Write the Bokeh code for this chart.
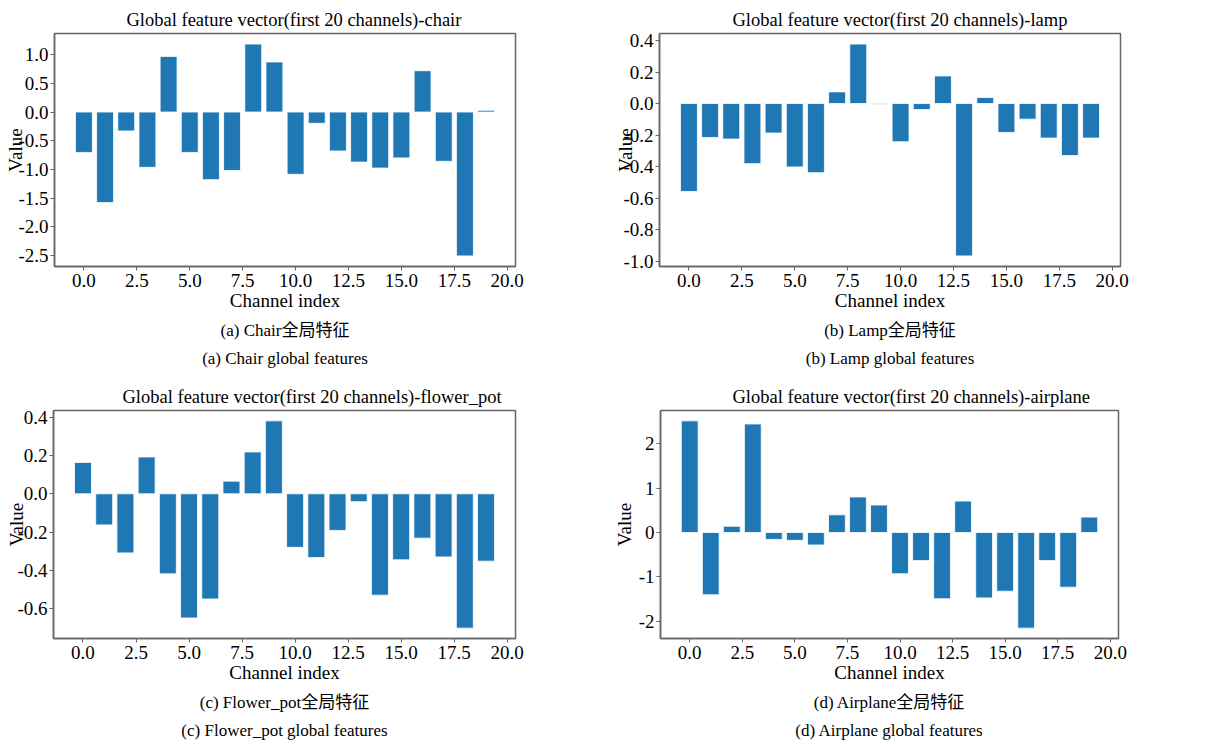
from bokeh.plotting import figure
from bokeh.layouts import column, row
from bokeh.models import Title, FixedTicker, NumeralTickFormatter, Range1d
from bokeh.embed import file_html
from bokeh.resources import INLINE

channels = list(range(20))

chair = [-0.705, -1.58, -0.33, -0.965, 0.97, -0.705, -1.18, -1.02, 1.185, 0.873,
         -1.087, -0.197, -0.68, -0.873, -0.977, -0.80, 0.72, -0.86, -2.51, 0.03]
lamp = [-0.558, -0.215, -0.225, -0.381, -0.187, -0.402, -0.438, 0.074, 0.377, -0.006,
        -0.242, -0.038, 0.175, -0.966, 0.038, -0.183, -0.099, -0.219, -0.33, -0.219]
flower_pot = [0.163, -0.162, -0.308, 0.192, -0.417, -0.647, -0.548, 0.066, 0.218, 0.38,
              -0.279, -0.332, -0.191, -0.041, -0.528, -0.344, -0.231, -0.329, -0.70, -0.351]
airplane = [2.51, -1.40, 0.14, 2.44, -0.155, -0.176, -0.28, 0.397, 0.80, 0.618,
            -0.926, -0.632, -1.49, 0.706, -1.47, -1.32, -2.15, -0.632, -1.23, 0.346]

x_ticks = [0, 2.5, 5, 7.5, 10, 12.5, 15, 17.5, 20]
chair_yticks = [-2.5, -2.0, -1.5, -1.0, -0.5, 0.0, 0.5, 1.0]
lamp_yticks = [-1.0, -0.8, -0.6, -0.4, -0.2, 0.0, 0.2, 0.4]
flower_yticks = [-0.6, -0.4, -0.2, 0.0, 0.2, 0.4]
airplane_yticks = [-2, -1, 0, 1, 2]

titles = ["Global feature vector(first 20 channels)-chair",
          "Global  feature vector(first 20 channels)-lamp",
          "Global feature vector(first 20 channels)-flower_pot",
          "Global  feature vector(first 20 channels)-airplane"]
captions_cn = ["(a) Chair全局特征", "(b) Lamp全局特征", "(c) Flower_pot全局特征", "(d) Airplane全局特征"]
captions_en = ["(a) Chair global features", "(b) Lamp global features",
               "(c) Flower_pot global features", "(d) Airplane global features"]

SERIF = "Liberation Serif, Noto Sans CJK SC"
BAR = "#1f77b4"
SPINE = "#666666"


def panel(vals, title, yticks, yfmt, cn, en, w, h, bl, br, bt, bb, toff, lab_so):
    lo, hi = min(vals), max(vals)
    span = hi - lo
    p = figure(width=w, height=h, output_backend="svg", toolbar_location=None,
               x_range=Range1d(-0.4 - 0.99, 19.4 + 0.99),
               y_range=Range1d(lo - 0.05 * span, hi + 0.05 * span),
               min_border_left=bl, min_border_right=br, min_border_top=bt, min_border_bottom=bb)
    p.vbar(x=channels, top=vals, bottom=0, width=0.8, fill_color=BAR,
           line_color="white", line_alpha=0.8, line_width=1)
    p.title.text = title
    p.title.align = "left"
    p.title.offset = toff
    p.title.text_font = SERIF
    p.title.text_font_size = "18.5px"
    p.title.text_font_style = "normal"
    p.title.text_color = "black"
    p.title.standoff = 7
    p.xgrid.visible = False
    p.ygrid.visible = False
    p.outline_line_color = SPINE
    p.outline_line_width = 1.5
    p.xaxis.ticker = FixedTicker(ticks=x_ticks)
    p.xaxis.formatter = NumeralTickFormatter(format="0.0")
    p.yaxis.ticker = FixedTicker(ticks=yticks)
    p.yaxis.formatter = NumeralTickFormatter(format=yfmt)
    p.xaxis.axis_label = "Channel index"
    p.yaxis.axis_label = "Value"
    for ax in (p.xaxis[0], p.yaxis[0]):
        ax.axis_line_color = SPINE
        ax.axis_line_width = 1.5
        ax.major_tick_line_color = SPINE
        ax.major_tick_out = 4
        ax.major_tick_in = 0
        ax.minor_tick_out = 0
        ax.minor_tick_in = 0
        ax.major_label_text_font = SERIF
        ax.major_label_text_font_size = "19px"
        ax.major_label_text_color = "black"
        ax.axis_label_text_font = SERIF
        ax.axis_label_text_font_size = "19px"
        ax.axis_label_text_font_style = "normal"
        ax.axis_label_text_color = "black"
    p.xaxis.major_label_standoff = 3
    p.yaxis.major_label_standoff = 2
    p.xaxis.axis_label_standoff = 0
    p.yaxis.axis_label_standoff = lab_so
    for txt, so in ((cn, 10), (en, 5)):
        t = Title(text=txt, align="center", text_font=SERIF, text_font_size="17px",
                  text_font_style="normal", text_color="black", standoff=so)
        p.add_layout(t, "below")
    return p


p1 = panel(chair, titles[0], chair_yticks, "0.0", captions_cn[0], captions_en[0],
           610, 372, 54, 95, 33, 106, 72, -11)
p2 = panel(lamp, titles[1], lamp_yticks, "0.0", captions_cn[1], captions_en[1],
           608, 372, 49, 98, 33, 106, 73, -16)
p3 = panel(flower_pot, titles[2], flower_yticks, "0.0", captions_cn[2], captions_en[2],
           610, 370, 53, 95, 38, 99, 69, -13)
p4 = panel(airplane, titles[3], airplane_yticks, "0", captions_cn[3], captions_en[3],
           608, 370, 45, 100, 37, 99, 72, 1)

layout = column(row(p1, p2), row(p3, p4))
open("out.html", "w").write(file_html(layout, INLINE))
